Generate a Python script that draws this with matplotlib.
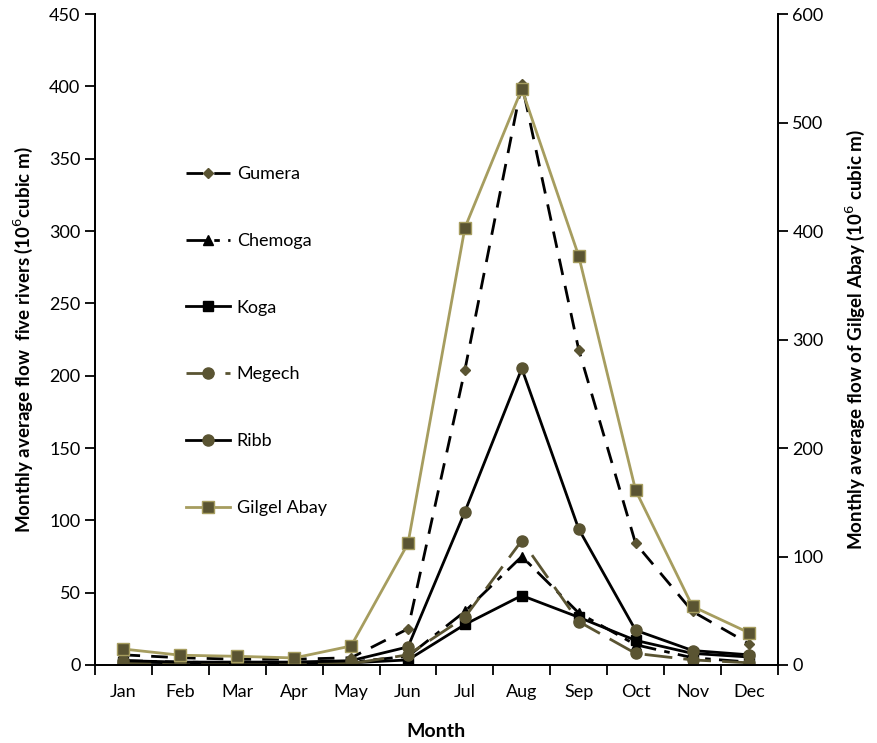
import matplotlib
matplotlib.use("Agg")
import matplotlib.pyplot as plt
import numpy as np

plt.rcParams["font.family"] = ["Lato", "DejaVu Sans"]

months = ["Jan", "Feb", "Mar", "Apr", "May", "Jun", "Jul", "Aug", "Sep", "Oct", "Nov", "Dec"]

# flows of the five rivers (left axis, 10^6 m^3)
gumera = [7, 5, 4, 4, 5, 25, 204, 402, 218, 84, 37, 14.5]
chemoga = [3, 2, 1.5, 1.5, 2, 6, 37, 75, 36, 14, 5, 2]
koga = [2, 1.5, 1, 1, 1.5, 3.5, 28, 48, 33, 17, 8, 5.5]
megech = [1, 1, 0.5, 0.5, 1, 7, 33, 86, 30, 8, 3.5, 1.5]
ribb = [3, 2, 2, 2, 3, 12.5, 106, 205, 94, 24, 10, 7]

# Gilgel Abay (right axis)
gilgel_abay = [14.7, 9, 8, 6.5, 17.5, 112, 403, 531, 377, 161, 54, 29.5]

olive_dark = "#5a5432"
olive_light = "#a69d5f"

x = np.arange(len(months))

fig = plt.figure(figsize=(8.77, 7.43), dpi=100)
ax = fig.add_axes([0.1083, 0.105, 0.7787, 0.876])
ax2 = ax.twinx()

lines = []
lines += ax.plot(x, gumera, color="black", linestyle=(0, (6, 4)), lw=2,
                 marker="D", ms=5.5, mfc=olive_dark, mec=olive_dark, label="Gumera")
lines += ax.plot(x, chemoga, color="black", linestyle=(0, (7, 3, 2, 3)), lw=2,
                 marker="^", ms=7, mfc="black", mec="black", label="Chemoga")
lines += ax.plot(x, koga, color="black", linestyle="-", lw=2,
                 marker="s", ms=7, mfc="black", mec="black", label="Koga")
lines += ax.plot(x, megech, color=olive_dark, linestyle=(0, (10, 4)), lw=2,
                 marker="o", ms=8, mfc=olive_dark, mec=olive_dark, label="Megech")
lines += ax.plot(x, ribb, color="black", linestyle="-", lw=2,
                 marker="o", ms=8, mfc=olive_dark, mec=olive_dark, label="Ribb")
lines += ax2.plot(x, gilgel_abay, color=olive_light, linestyle="-", lw=2,
                  marker="s", ms=8, mfc=olive_dark, mec=olive_light, label="Gilgel Abay")

ax.set_xlim(-0.5, 11.5)
ax.set_ylim(0, 450)
ax2.set_ylim(0, 600)
ax.set_yticks(np.arange(0, 451, 50))
ax2.set_yticks(np.arange(0, 601, 100))

# excel-style category axis: ticks between categories, labels centred
ax.set_xticks(np.arange(-0.5, 12, 1))
ax.set_xticklabels([])
ax.set_xticks(x, minor=True)
ax.set_xticklabels(months, minor=True)
ax.tick_params(axis="x", which="minor", length=0, labelsize=13, pad=14)
ax.tick_params(axis="x", which="major", length=7, width=1.3, direction="out")
ax.tick_params(axis="y", length=7, width=1.3, direction="out", labelsize=13)
ax2.tick_params(axis="y", length=7, width=1.3, direction="out", labelsize=13)

for a in (ax, ax2):
    a.spines["top"].set_visible(False)
    for s in ("left", "right", "bottom"):
        a.spines[s].set_linewidth(1.3)

ax.set_xlabel("Month", fontsize=14, fontweight="bold", labelpad=16)
ax.set_ylabel("Monthly average flow  five rivers (10$^{6}$cubic m)", fontsize=13.5, fontweight="bold",
              labelpad=10)
ax2.set_ylabel("Monthly average flow of Gilgel Abay (10$^{6}$ cubic m)", fontsize=13.5, fontweight="bold",
               labelpad=14)

leg = ax.legend(handles=lines, loc="upper left", bbox_to_anchor=(170 / 877, 1 - 150 / 743),
                bbox_transform=fig.transFigure, frameon=False, fontsize=13,
                handlelength=2.4, handletextpad=0.4, labelspacing=2.81)

fig.savefig("out.png", dpi=100)
